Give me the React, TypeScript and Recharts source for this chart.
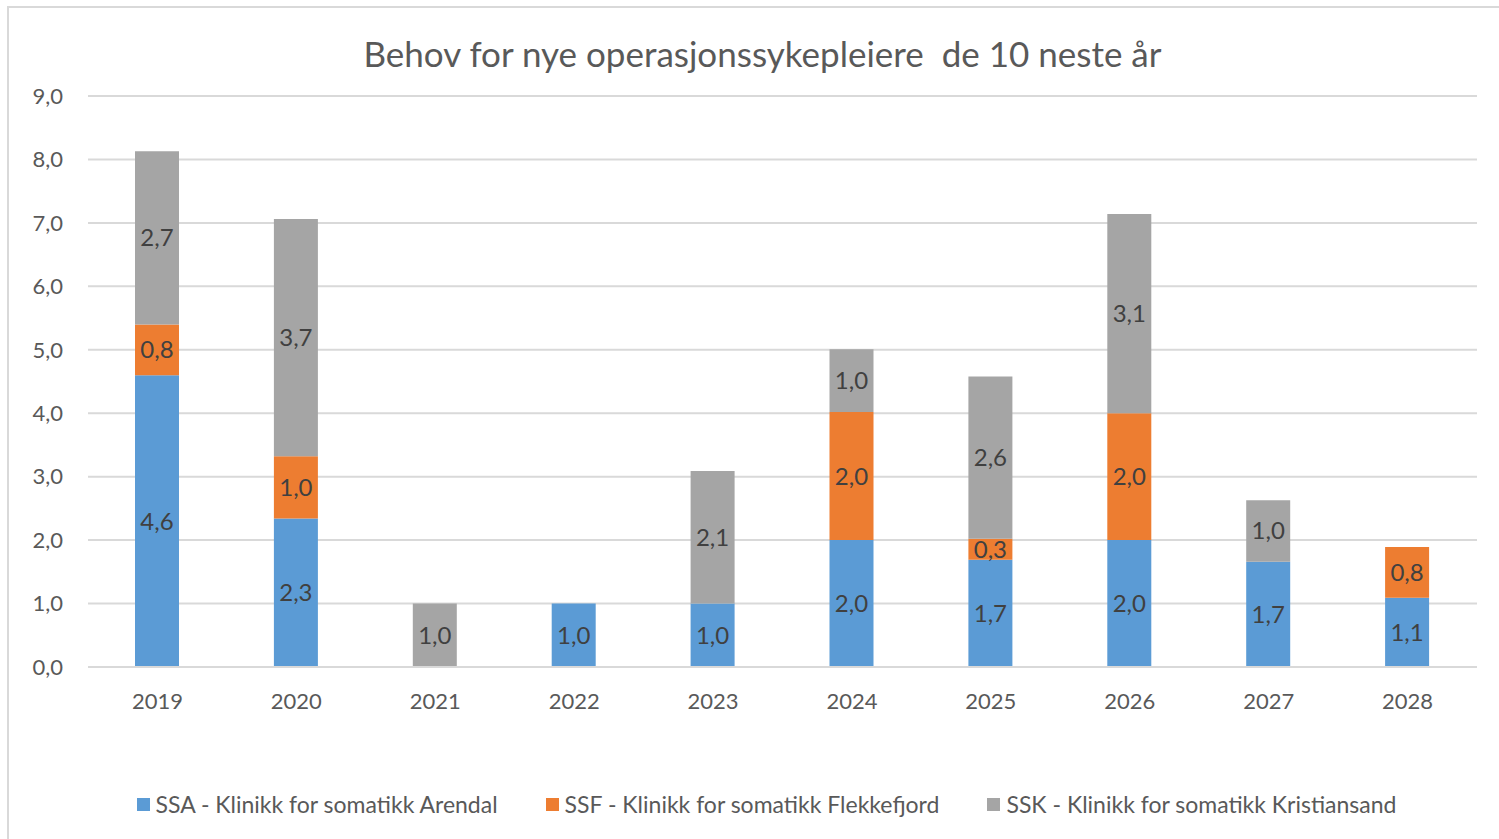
import React from 'react';
import { BarChart, Bar, XAxis, YAxis, CartesianGrid, Legend, LabelList } from 'recharts';

const years = ['2019', '2020', '2021', '2022', '2023', '2024', '2025', '2026', '2027', '2028'];
const ssaValues = [4.6, 2.34, null, 1.0, 1.0, 2.0, 1.69, 2.0, 1.66, 1.09];
const ssfValues = [0.8, 0.98, null, null, null, 2.02, 0.33, 2.0, null, 0.8];
const sskValues = [2.73, 3.74, 1.0, null, 2.09, 0.99, 2.56, 3.14, 0.97, null];
const yTicks = [0, 1, 2, 3, 4, 5, 6, 7, 8, 9];

const seriesNames = {
  ssa: 'SSA - Klinikk for somatikk Arendal',
  ssf: 'SSF - Klinikk for somatikk Flekkefjord',
  ssk: 'SSK - Klinikk for somatikk Kristiansand',
};
const colors = { ssa: '#5B9BD5', ssf: '#ED7D31', ssk: '#A5A5A5' };

const data = years.map((y, i) => ({
  year: y,
  ssa: ssaValues[i],
  ssf: ssfValues[i],
  ssk: sskValues[i],
}));

const FONT = 'Lato, "Open Sans", sans-serif';
const fmt = (v: any) => (v === null || v === undefined ? '' : Number(v).toFixed(1).replace('.', ','));

const LegendContent = () => {
  const keys = ['ssa', 'ssf', 'ssk'] as const;
  return (
    <div style={{ display: 'flex', justifyContent: 'center', alignItems: 'center', height: 30, paddingLeft: 56, fontFamily: FONT, fontSize: 23, color: '#595959' }}>
      {keys.map((k, i) => (
        <div key={k} style={{ display: 'flex', alignItems: 'center', marginLeft: i === 0 ? 0 : 48 }}>
          <span style={{ display: 'inline-block', width: 13, height: 13, background: colors[k], marginRight: 6 }} />
          <span>{seriesNames[k]}</span>
        </div>
      ))}
    </div>
  );
};

export default function App() {
  return (
    <div style={{ position: 'absolute', left: 0, top: 0, width: 1499, height: 839, background: '#fff', fontFamily: FONT }}>
      <div style={{ position: 'absolute', left: 7, top: 6, width: 1492, height: 833, borderLeft: '2px solid #d9d9d9', borderTop: '2px solid #d9d9d9', boxSizing: 'border-box' }} />
      <div style={{ position: 'absolute', left: 0, top: 32, width: 1499, textAlign: 'center', paddingLeft: 26, boxSizing: 'border-box', fontSize: 35, color: '#595959', fontFamily: FONT }}>
        Behov for nye operasjonssykepleiere&nbsp; de 10 neste år
      </div>
      <div style={{ position: 'absolute', left: 0, top: 0 }}>
        <BarChart width={1499} height={839} data={data} margin={{ top: 96, right: 22, bottom: 20, left: 0 }} barSize={44}>
          <CartesianGrid vertical={false} stroke="#d9d9d9" strokeWidth={2} />
          <XAxis dataKey="year" height={122} axisLine={{ stroke: '#d9d9d9', strokeWidth: 2 }} tickLine={false} tickMargin={20}
            tick={{ fill: '#595959', fontSize: 22, fontFamily: FONT }} />
          <YAxis width={88} domain={[0, 9]} ticks={yTicks} interval={0} axisLine={false} tickLine={false} tickMargin={19}
            tickFormatter={fmt} tick={{ fill: '#595959', fontSize: 22, fontFamily: FONT }} />
          <Legend verticalAlign="bottom" content={<LegendContent />} wrapperStyle={{ height: 30 }} />
          {(['ssa', 'ssf', 'ssk'] as const).map((k) => (
            <Bar key={k} dataKey={k} name={seriesNames[k]} stackId="a" fill={colors[k]} isAnimationActive={false}>
              <LabelList dataKey={k} position="center" formatter={fmt} fill="#404040" fontSize={24} fontFamily={FONT} />
            </Bar>
          ))}
        </BarChart>
      </div>
    </div>
  );
}
